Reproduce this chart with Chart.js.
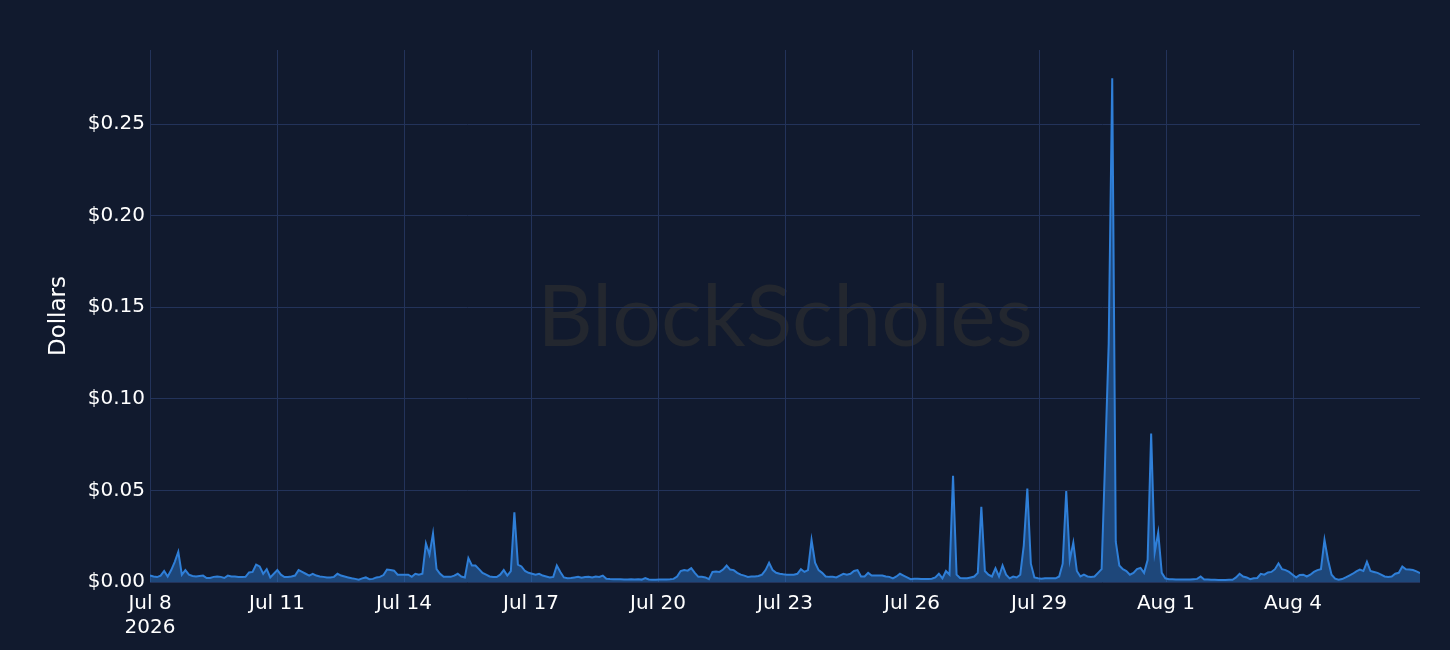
<!DOCTYPE html>
<html>
<head>
<meta charset="utf-8">
<script src="https://cdn.jsdelivr.net/npm/chart.js@4.4.1/dist/chart.umd.min.js"></script>
<style>
  html, body { margin: 0; padding: 0; background: #111a2e; }
  #wrap { width: 1450px; height: 650px; }
</style>
</head>
<body>
<div id="wrap"><canvas id="chart"></canvas></div>
<script>
// two-hourly cost in dollars, from Jul 8 2026 00:00
const julWeek1 = [
  0.0035, 0.003, 0.0027, 0.0035, 0.006, 0.003, 0.0065, 0.011, 0.0165, 0.004, 0.0065, 0.004,
  0.0033, 0.003, 0.0033, 0.0035, 0.0022, 0.0022, 0.0028, 0.003, 0.0028, 0.0022, 0.0035, 0.003,
  0.003, 0.0027, 0.0027, 0.0028, 0.0052, 0.0055, 0.0095, 0.0085, 0.0045, 0.007, 0.0025, 0.0045,
  0.0065, 0.004, 0.0027, 0.0027, 0.003, 0.0035, 0.0065, 0.0055, 0.0045, 0.0035, 0.0045, 0.0035,
  0.003, 0.0028, 0.0025, 0.0025, 0.0028, 0.0045, 0.0035, 0.003, 0.0025, 0.002, 0.0017, 0.0013,
  0.002, 0.0025, 0.0015, 0.0017, 0.0025, 0.0028, 0.0038, 0.0068, 0.0065, 0.0062, 0.004, 0.004,
  0.004, 0.004, 0.0028, 0.0045, 0.004, 0.0045, 0.021, 0.015, 0.0265, 0.007, 0.0045, 0.0028
];
const julWeek2 = [
  0.0028, 0.0028, 0.0035, 0.0045, 0.003, 0.0025, 0.013, 0.009, 0.009, 0.007, 0.005, 0.004,
  0.003, 0.0027, 0.0027, 0.004, 0.0065, 0.0035, 0.006, 0.038, 0.0095, 0.0085, 0.006, 0.005,
  0.0045, 0.004, 0.0045, 0.0035, 0.003, 0.0025, 0.0028, 0.009, 0.0055, 0.0025, 0.002, 0.0022,
  0.0025, 0.0028, 0.0023, 0.0027, 0.0028, 0.0025, 0.003, 0.0028, 0.0035, 0.0018, 0.0016, 0.0015,
  0.0015, 0.0015, 0.0014, 0.0014, 0.0015, 0.0014, 0.0015, 0.0013, 0.0022, 0.0014, 0.0012, 0.0012,
  0.0013, 0.0013, 0.0014, 0.0015, 0.0017, 0.003, 0.006, 0.0065, 0.0062, 0.0076, 0.005, 0.0028,
  0.0028, 0.0025, 0.0015, 0.0055, 0.0057, 0.0055, 0.0068, 0.009, 0.0068, 0.0065, 0.005, 0.004
];
const julWeek3 = [
  0.0035, 0.0028, 0.003, 0.003, 0.0033, 0.004, 0.0065, 0.0105, 0.0065, 0.005, 0.0045, 0.0042,
  0.004, 0.004, 0.004, 0.0045, 0.007, 0.0055, 0.0065, 0.023, 0.0105, 0.0065, 0.005, 0.003,
  0.0028, 0.0028, 0.0025, 0.0035, 0.0045, 0.004, 0.0045, 0.006, 0.0065, 0.003, 0.003, 0.005,
  0.0035, 0.0035, 0.0035, 0.0035, 0.003, 0.0028, 0.002, 0.003, 0.0045, 0.0035, 0.0025, 0.0015,
  0.0018, 0.0018, 0.0017, 0.0017, 0.0017, 0.0018, 0.0025, 0.0045, 0.002, 0.006, 0.004, 0.058,
  0.004, 0.0022, 0.002, 0.002, 0.0025, 0.003, 0.005, 0.041, 0.006, 0.004, 0.003, 0.0075,
  0.003, 0.009, 0.004, 0.002, 0.003, 0.0025, 0.004, 0.02, 0.051, 0.01, 0.0025, 0.002
];
const julWeek4 = [
  0.0018, 0.002, 0.002, 0.002, 0.002, 0.003, 0.01, 0.0497, 0.012, 0.0215, 0.006, 0.003,
  0.004, 0.003, 0.0028, 0.003, 0.005, 0.007, 0.067, 0.13, 0.275, 0.022, 0.009, 0.007,
  0.006, 0.004, 0.005, 0.007, 0.0077, 0.005, 0.012, 0.081, 0.016, 0.027, 0.005, 0.002,
  0.0015, 0.0015, 0.0014, 0.0014, 0.0013, 0.0013, 0.0013, 0.0015, 0.0017, 0.003, 0.0014, 0.0013,
  0.0012, 0.0012, 0.0011, 0.0011, 0.0011, 0.0012, 0.0012, 0.0025, 0.0045, 0.003, 0.0025, 0.0015,
  0.002, 0.0022, 0.0045, 0.004, 0.0052, 0.0055, 0.007, 0.0102, 0.007, 0.0065, 0.0055, 0.004,
  0.0025, 0.0038, 0.004, 0.003, 0.004, 0.0055, 0.0065, 0.007, 0.023, 0.012, 0.004, 0.0018
];
const augDays = [
  0.0013, 0.0016, 0.0025, 0.0035, 0.0045, 0.0058, 0.0068, 0.006, 0.011, 0.006, 0.0055, 0.005,
  0.004, 0.003, 0.0028, 0.003, 0.0045, 0.005, 0.0085, 0.007, 0.0068, 0.0065, 0.0058, 0.0048
];

const tickLabels = ['Jul 8', 'Jul 11', 'Jul 14', 'Jul 17', 'Jul 20', 'Jul 23', 'Jul 26', 'Jul 29', 'Aug 1', 'Aug 4'];
const yearLabel = '2026';
const hoursPerPoint = 2;
const hoursPerTick = 72;

const values = [].concat(julWeek1, julWeek2, julWeek3, julWeek4, augDays);
const points = values.map((v, i) => ({ x: i * hoursPerPoint, y: v }));

const bgColor = '#111a2e';
const gridColor = '#23335a';

const backdrop = {
  id: 'backdrop',
  beforeDraw(chart) {
    const { ctx, chartArea } = chart;
    ctx.save();
    ctx.fillStyle = bgColor;
    ctx.fillRect(0, 0, chart.width, chart.height);
    // watermark
    const cx = (chartArea.left + chartArea.right) / 2;
    const cy = (chartArea.top + chartArea.bottom) / 2;
    ctx.font = '400 86px Lato, "Open Sans", sans-serif';
    ctx.textAlign = 'center';
    ctx.textBaseline = 'middle';
    ctx.fillStyle = '#23272f';
    ctx.fillText('BlockScholes', cx, cy + 2);
    ctx.restore();
  }
};

new Chart(document.getElementById('chart'), {
  type: 'line',
  data: {
    datasets: [{
      data: points,
      borderColor: '#2f7fd8',
      backgroundColor: 'rgba(47, 127, 216, 0.45)',
      borderWidth: 2,
      fill: 'origin',
      pointRadius: 0,
      tension: 0
    }]
  },
  options: {
    responsive: true,
    maintainAspectRatio: false,
    animation: false,
    layout: { padding: { top: 50, right: 30, left: 0, bottom: 0 } },
    plugins: {
      legend: { display: false },
      tooltip: { enabled: false }
    },
    scales: {
      x: {
        type: 'linear',
        min: 0,
        max: (values.length - 1) * hoursPerPoint,
        border: { display: false },
        grid: { color: gridColor, drawTicks: false },
        afterFit: (s) => { s.height = 68; },
        ticks: {
          stepSize: hoursPerTick,
          includeBounds: false,
          maxRotation: 0,
          autoSkip: false,
          padding: 10,
          color: '#ffffff',
          font: { family: '"DejaVu Sans"', size: 20 },
          callback: (v) => {
            const k = Math.round(v / hoursPerTick);
            if (k === 0) return [tickLabels[0], yearLabel];
            return tickLabels[k];
          }
        }
      },
      y: {
        min: 0,
        max: 0.2904,
        border: { display: false },
        grid: { color: gridColor, drawTicks: false },
        afterFit: (s) => { s.width = 150; },
        title: {
          display: true,
          text: 'Dollars',
          color: '#ffffff',
          font: { family: '"DejaVu Sans"', size: 23 },
          padding: { top: 45, bottom: 0 }
        },
        ticks: {
          stepSize: 0.05,
          includeBounds: false,
          padding: 5,
          color: '#ffffff',
          font: { family: '"DejaVu Sans"', size: 20 },
          callback: (v) => '$' + v.toFixed(2)
        }
      }
    }
  },
  plugins: [backdrop]
});
</script>
</body>
</html>
